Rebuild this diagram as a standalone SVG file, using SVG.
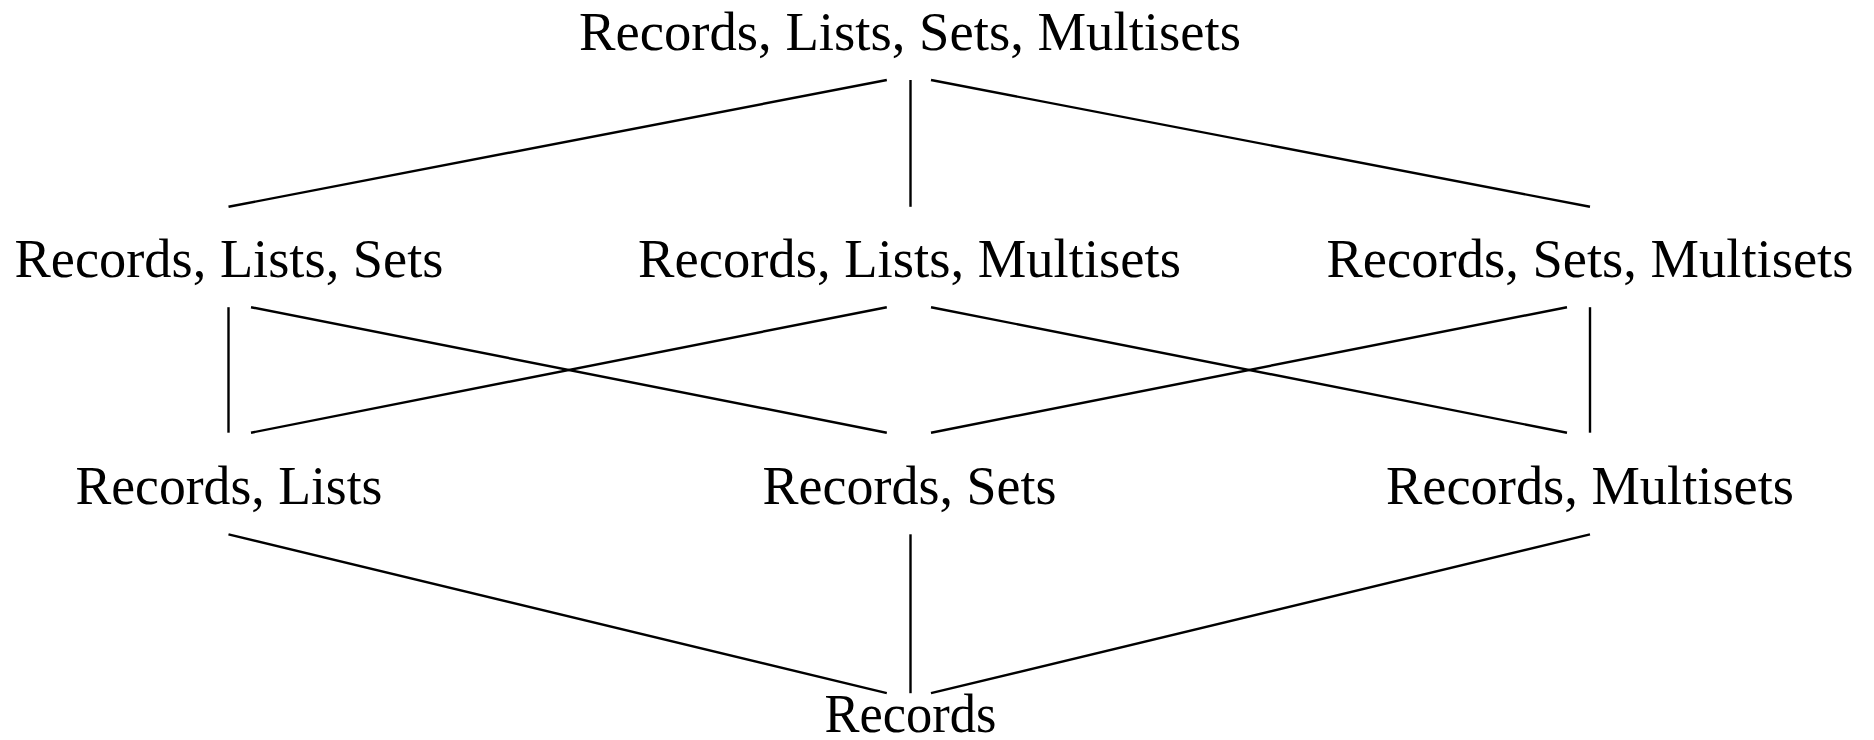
<svg xmlns="http://www.w3.org/2000/svg" width="1874" height="740" viewBox="0 0 1874 740">
  <style>
    .lbl { font-family: "Liberation Serif", "Times New Roman", serif; font-size: 55px; fill: #000; text-anchor: middle; }
    .edge { stroke: #000; stroke-width: 2.4; fill: none; stroke-linecap: butt; }
  </style>
  <rect width="1874" height="740" fill="#fff"/>

  <!-- connectors of the lattice -->
  <g id="connectors">
    <line class="edge" x1="886.8" y1="80" x2="228.5" y2="206.8"/>
    <line class="edge" x1="910.5" y1="80" x2="910.5" y2="206.8"/>
    <line class="edge" x1="931" y1="80" x2="1590" y2="206.8"/>

    <line class="edge" x1="228.5" y1="307.2" x2="228.5" y2="432.7"/>
    <line class="edge" x1="251" y1="307.2" x2="886.8" y2="432.7"/>
    <line class="edge" x1="886.8" y1="307.2" x2="251" y2="432.7"/>
    <line class="edge" x1="931" y1="307.2" x2="1567" y2="432.7"/>
    <line class="edge" x1="1567" y1="307.2" x2="931" y2="432.7"/>
    <line class="edge" x1="1590" y1="307.2" x2="1590" y2="432.7"/>

    <line class="edge" x1="228.5" y1="534.3" x2="886.8" y2="693.2"/>
    <line class="edge" x1="910.5" y1="534.3" x2="910.5" y2="693.2"/>
    <line class="edge" x1="1590" y1="534.3" x2="931" y2="693.2"/>
  </g>

  <!-- nodes -->
  <g id="n-rlsm"><text class="lbl" x="910" y="50" textLength="662" lengthAdjust="spacingAndGlyphs">Records, Lists, Sets, Multisets</text></g>
  <g id="n-rls"><text class="lbl" x="229" y="277" textLength="429" lengthAdjust="spacingAndGlyphs">Records, Lists, Sets</text></g>
  <g id="n-rlm"><text class="lbl" x="909.5" y="277" textLength="543" lengthAdjust="spacingAndGlyphs">Records, Lists, Multisets</text></g>
  <g id="n-rsm"><text class="lbl" x="1590" y="277" textLength="527" lengthAdjust="spacingAndGlyphs">Records, Sets, Multisets</text></g>
  <g id="n-rl"><text class="lbl" x="229" y="504" textLength="307" lengthAdjust="spacingAndGlyphs">Records, Lists</text></g>
  <g id="n-rs"><text class="lbl" x="909.5" y="504" textLength="294" lengthAdjust="spacingAndGlyphs">Records, Sets</text></g>
  <g id="n-rm"><text class="lbl" x="1590" y="504" textLength="408" lengthAdjust="spacingAndGlyphs">Records, Multisets</text></g>
  <g id="n-r"><text class="lbl" x="910.5" y="732" textLength="172" lengthAdjust="spacingAndGlyphs">Records</text></g>
</svg>
